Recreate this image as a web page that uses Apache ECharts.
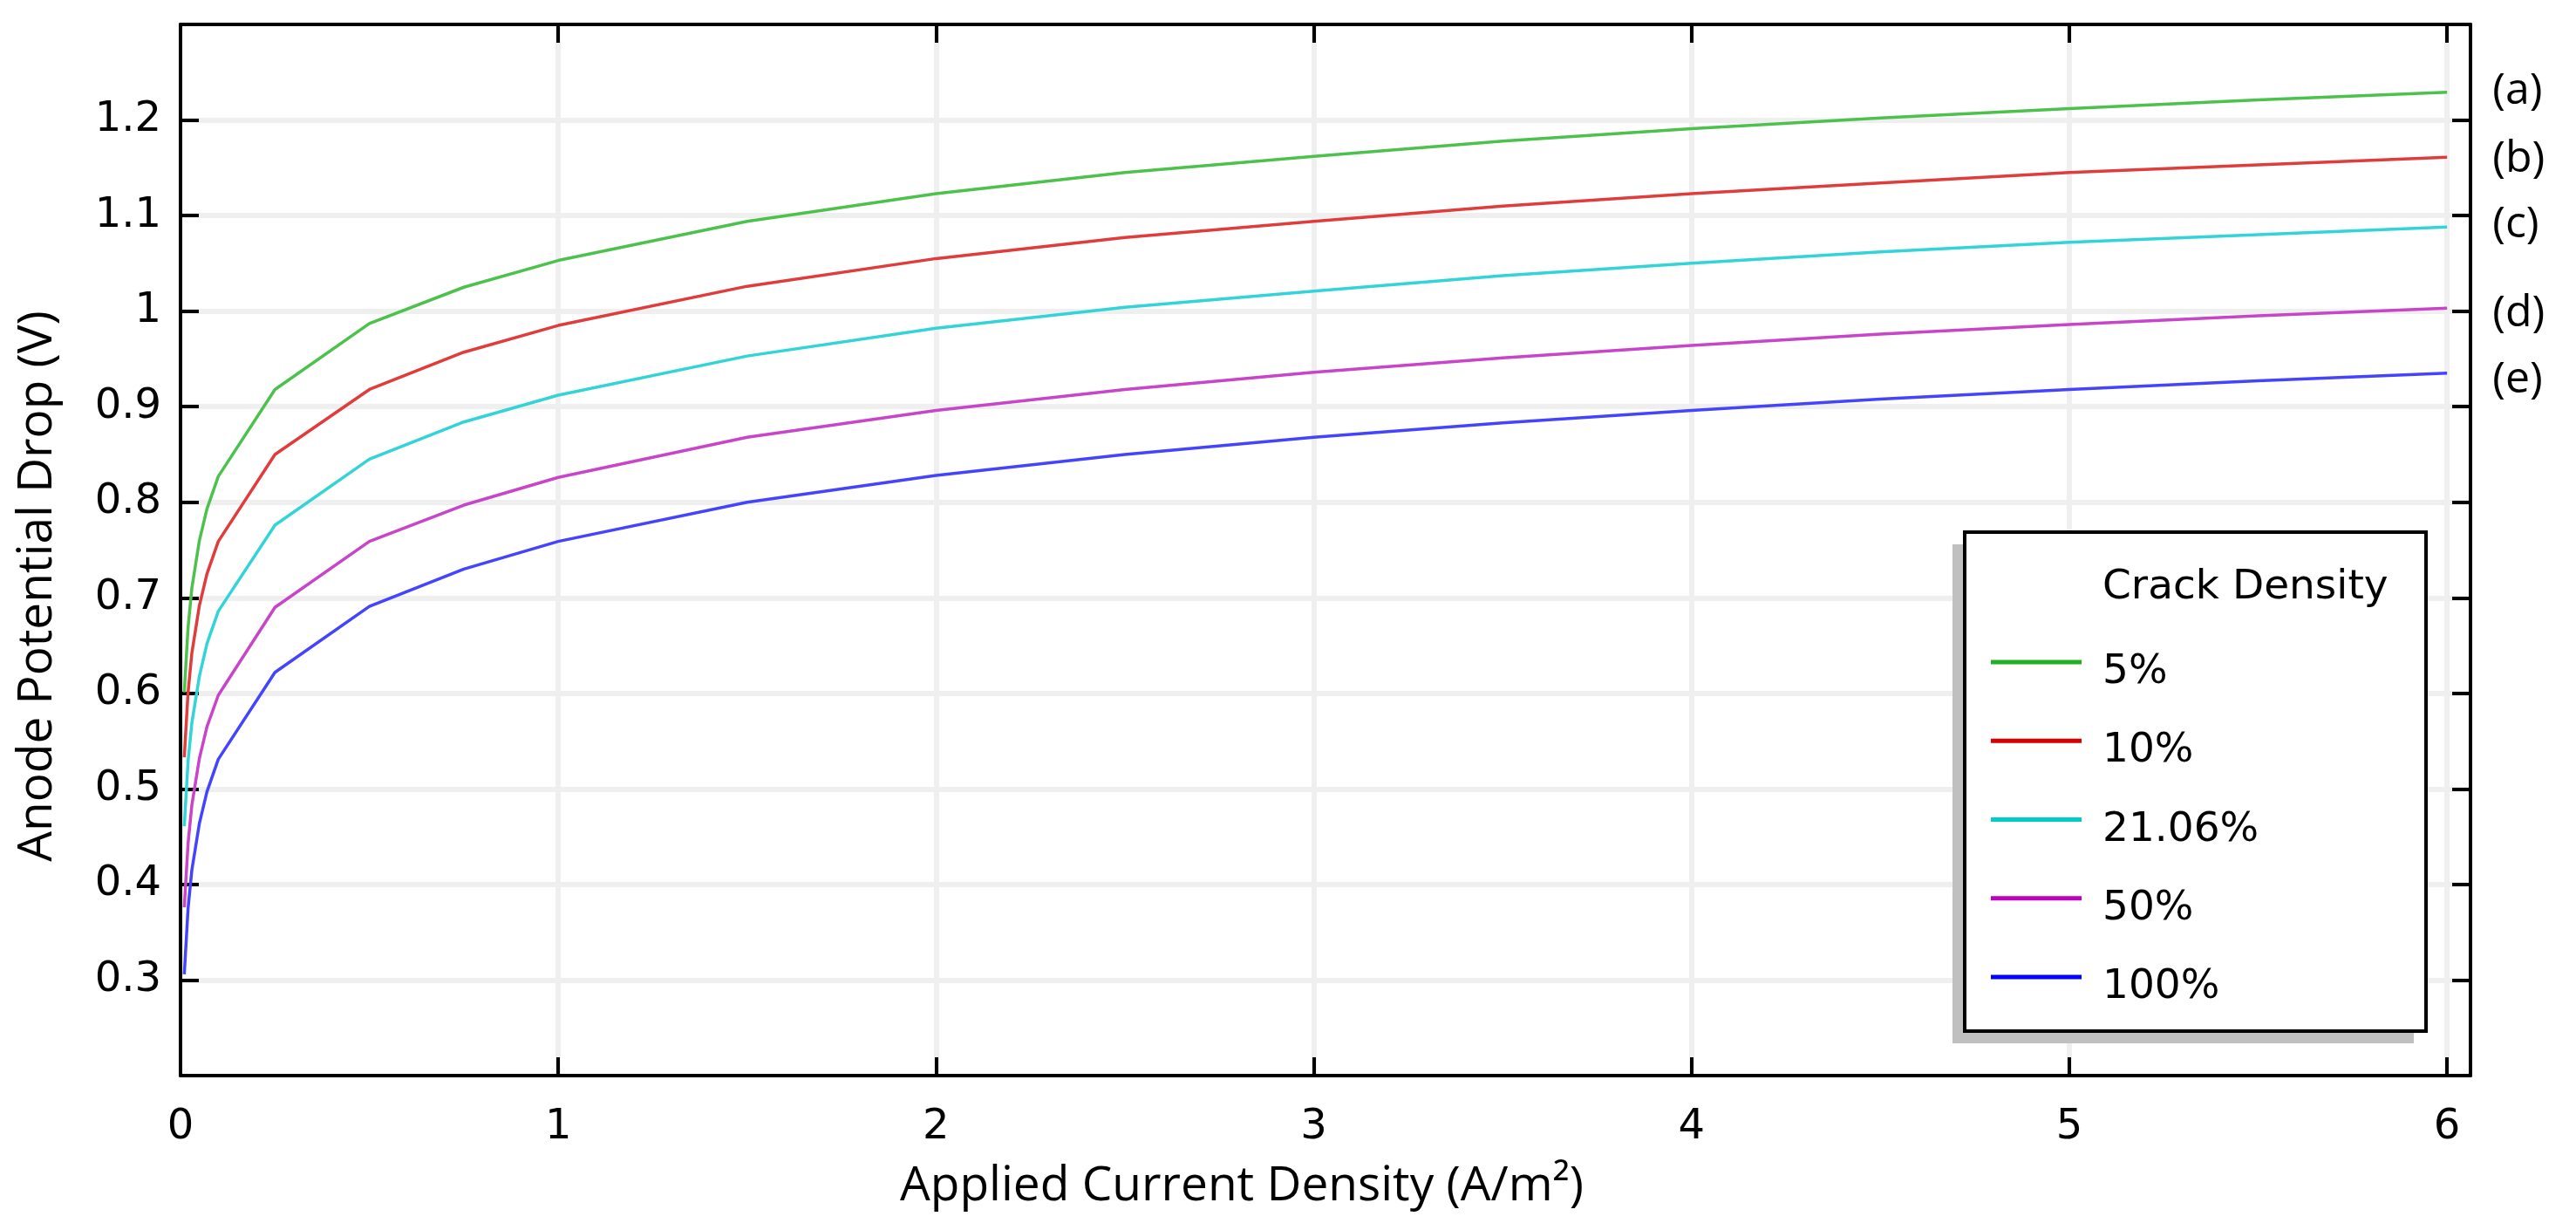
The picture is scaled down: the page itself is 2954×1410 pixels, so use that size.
<!DOCTYPE html>
<html>
<head>
<meta charset="utf-8">
<script src="https://cdn.jsdelivr.net/npm/echarts@6/dist/echarts.min.js"></script>
<style>
html,body{margin:0;padding:0;background:#ffffff;}
#chart{width:2954px;height:1410px;}
</style>
</head>
<body>
<div id="chart"></div>
<script>
// ---- data ----
const xValues = [0.01,0.02,0.03,0.05,0.07,0.1,0.25,0.5,0.75,1,1.5,2,2.5,3,3.5,4,4.5,5,5.5,6];
const crack5   = [0.601,0.669,0.710,0.760,0.793,0.827,0.918,0.987,1.025,1.053,1.094,1.123,1.145,1.162,1.178,1.191,1.202,1.212,1.221,1.229];
const crack10  = [0.533,0.601,0.642,0.692,0.725,0.759,0.850,0.918,0.957,0.985,1.026,1.055,1.077,1.094,1.110,1.123,1.134,1.145,1.153,1.161];
const crack21  = [0.461,0.529,0.569,0.618,0.652,0.686,0.776,0.845,0.884,0.912,0.953,0.982,1.004,1.021,1.037,1.050,1.062,1.072,1.080,1.088];
const crack50  = [0.376,0.443,0.483,0.532,0.565,0.598,0.690,0.759,0.797,0.826,0.868,0.896,0.918,0.936,0.951,0.964,0.976,0.986,0.995,1.003];
const crack100 = [0.306,0.375,0.415,0.464,0.497,0.531,0.622,0.691,0.730,0.759,0.800,0.828,0.850,0.868,0.883,0.896,0.908,0.918,0.927,0.935];
const seriesNames = ['5%','10%','21.06%','50%','100%'];
const curveTags = ['(a)','(b)','(c)','(d)','(e)'];
const xTickLabels = [0,1,2,3,4,5,6];
const yTickLabels = [0.3,0.4,0.5,0.6,0.7,0.8,0.9,1,1.1,1.2];
const xTitle = 'Applied Current Density (A/m²)';
const yTitle = 'Anode Potential Drop (V)';
const legendTitle = 'Crack Density';

// ---- styling ----
const allSeries = [crack5, crack10, crack21, crack50, crack100];
const lineColors = ['#4cc24c','#e03c3c','#33d4d8','#c844c8','#4444ff'];
const legendColors = ['#22b022','#d80000','#00cccc','#c000c0','#0000ff'];
const tagOffsets = [[0,-1],[0,2],[0,-2],[0,6],[0,8]];
const X_MIN = 0, X_MAX = 6.062, Y_MIN = 0.2, Y_MAX = 1.3;
const tickFont = 'DejaVu Sans';
const titleFont = 'Open Sans';
// legend swatch: a 5px bar at the top of a 29px-high icon box, so the text sits a little below the line
const legendIcon = 'path://M0,0H104V5H0Z M103.9,28.9H104V29H103.9Z';

function fmtX(v){ const r = Math.round(v*1000)/1000; return xTickLabels.indexOf(r) >= 0 ? String(r) : ''; }
function fmtY(v){ const r = Math.round(v*10)/10; return (Math.abs(v-r) < 1e-6 && yTickLabels.indexOf(r) >= 0) ? String(r) : ''; }

const borderLine = {onZero:false,lineStyle:{color:'#000',width:4}};
const borderTick = {show:true,inside:true,length:21,lineStyle:{color:'#000',width:4}};
const hiddenLine = {show:false,onZero:false};
const gridSplit = {show:true,showMinLine:false,showMaxLine:false,lineStyle:{color:'#efefef',width:6}};

const chart = echarts.init(document.getElementById('chart'), null, {renderer:'canvas'});
const option = {
  animation:false,
  backgroundColor:'#ffffff',
  grid:{left:207,right:121,top:28,bottom:177,containLabel:false},
  xAxis:[
    {type:'value',position:'bottom',min:X_MIN,max:X_MAX,interval:1,z:1,
     axisLine:borderLine,axisTick:borderTick,
     axisLabel:{fontFamily:tickFont,fontSize:48,color:'#000',margin:36,formatter:fmtX,showMaxLabel:false},
     splitLine:{show:false}},
    {type:'value',position:'top',min:X_MIN,max:X_MAX,interval:1,z:1,
     axisLine:borderLine,axisTick:borderTick,axisLabel:{show:false},splitLine:{show:false}},
    {type:'value',position:'bottom',min:X_MIN,max:X_MAX,interval:1,z:0,
     axisLine:hiddenLine,axisTick:{show:false},axisLabel:{show:false},splitLine:gridSplit}
  ],
  yAxis:[
    {type:'value',position:'left',min:Y_MIN,max:Y_MAX,interval:0.1,z:1,
     axisLine:borderLine,axisTick:borderTick,
     axisLabel:{fontFamily:tickFont,fontSize:48,color:'#000',margin:22,formatter:fmtY},
     splitLine:{show:false}},
    {type:'value',position:'right',min:Y_MIN,max:Y_MAX,interval:0.1,z:1,
     axisLine:borderLine,axisTick:borderTick,axisLabel:{show:false},splitLine:{show:false}},
    {type:'value',position:'left',min:Y_MIN,max:Y_MAX,interval:0.1,z:0,
     axisLine:hiddenLine,axisTick:{show:false},axisLabel:{show:false},splitLine:gridSplit}
  ],
  legend:{
    orient:'vertical',left:2283,top:747.5,padding:0,itemGap:43.25,z:10,
    icon:legendIcon,itemWidth:104,itemHeight:29,
    textStyle:{fontFamily:tickFont,fontSize:47,lineHeight:47,color:'#000',padding:[0,0,0,19]},
    data:seriesNames.map((n,i)=>({name:n,itemStyle:{color:legendColors[i]}}))
  },
  graphic:[
    {type:'rect',z:5,shape:{x:2239,y:624,width:529,height:572},style:{fill:'#c0c0c0'}},
    {type:'rect',z:6,shape:{x:2253,y:610,width:529,height:572},style:{fill:'#ffffff',stroke:'#000',lineWidth:4}},
    {type:'text',z:7,x:2411,y:674,style:{text:legendTitle,font:'47px "DejaVu Sans"',fill:'#000',textAlign:'left',textVerticalAlign:'middle'}},
    {type:'text',z:7,x:1424,y:1360,style:{text:xTitle,font:'55px "Open Sans"',fill:'#000',textAlign:'center',textVerticalAlign:'middle'}},
    {type:'text',z:7,x:43,y:672,rotation:Math.PI/2,style:{text:yTitle,font:'55px "Open Sans"',fill:'#000',textAlign:'center',textVerticalAlign:'middle'}}
  ],
  series:allSeries.map((vals,i)=>({
    name:seriesNames[i],type:'line',xAxisIndex:0,yAxisIndex:0,
    data:xValues.map((x,j)=>[x,vals[j]]),
    symbol:'none',showSymbol:false,smooth:false,z:2,
    lineStyle:{color:lineColors[i],width:3.5},
    itemStyle:{color:lineColors[i]},
    endLabel:{show:true,formatter:curveTags[i],distance:52,offset:tagOffsets[i],
      fontFamily:titleFont,fontSize:50,color:'#000'}
  }))
};
chart.setOption(option);
</script>
</body>
</html>
